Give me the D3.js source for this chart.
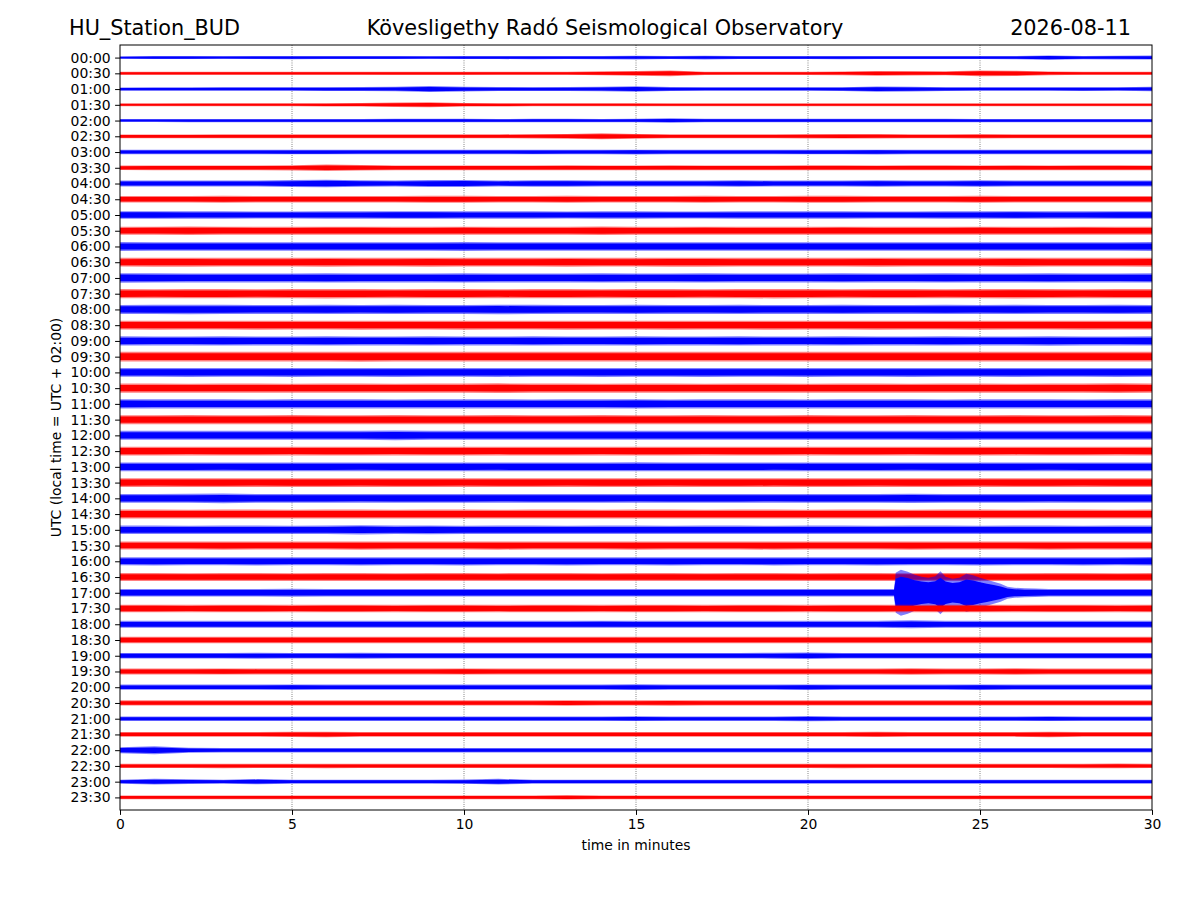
<!DOCTYPE html>
<html lang="en">
<head>
<meta charset="UTF-8">
<title>HU_Station_BUD helicorder</title>
<script src="https://d3js.org/d3.v7.min.js"></script>
<style>
  body { margin: 0; background: #fff; }
  text { font-family: "DejaVu Sans", sans-serif; fill: #000; }
</style>
</head>
<body>
<script>
// ---- data ----
const station = "HU_Station_BUD";
const observatory = "Kövesligethy Radó Seismological Observatory";
const day = "2026-08-11";

const rowLabels = ["00:00","00:30","01:00","01:30","02:00","02:30","03:00","03:30",
  "04:00","04:30","05:00","05:30","06:00","06:30","07:00","07:30",
  "08:00","08:30","09:00","09:30","10:00","10:30","11:00","11:30",
  "12:00","12:30","13:00","13:30","14:00","14:30","15:00","15:30",
  "16:00","16:30","17:00","17:30","18:00","18:30","19:00","19:30",
  "20:00","20:30","21:00","21:30","22:00","22:30","23:00","23:30"];

const rowColors = ["blue", "red"];   // alternate per row
const minutes = [0,1,2,3,4,5,6,7,8,9,10,11,12,13,14,15,16,17,18,19,20,21,22,23,24,25,26,27,28,29,30];

// trace envelope (peak amplitude, relative counts) for each minute of each 30-min row
const envelopes = [
  [12,15,15,14,15,16,15,15,15,14,15,15,16,15,17,18,15,18,15,15,15,16,15,15,15,15,16,22,17,18,20],
  [15,15,15,15,15,15,15,15,16,16,16,15,15,15,20,24,28,16,15,15,16,18,24,22,20,28,27,18,15,15,15],
  [16,17,17,18,18,18,19,20,22,30,24,20,19,20,22,28,20,18,18,18,18,19,26,24,19,18,18,18,19,18,22],
  [14,14,15,15,15,15,16,18,22,25,18,16,15,15,15,15,14,14,14,14,14,14,14,14,14,14,14,14,14,14,14],
  [15,15,16,16,16,16,16,16,18,17,17,16,18,17,16,17,22,18,17,17,17,17,17,17,17,16,16,16,16,16,16],
  [19,19,19,20,20,20,20,20,20,20,20,20,21,24,30,24,20,20,20,20,21,23,22,20,20,21,20,20,20,20,20],
  [22,22,22,22,22,23,23,22,22,22,22,22,23,22,22,24,22,22,22,22,23,23,24,22,22,22,22,22,22,22,22],
  [23,24,24,24,24,26,32,28,24,24,24,24,24,25,24,24,25,24,24,24,25,25,24,25,25,24,25,24,25,25,24],
  [30,30,30,30,30,34,38,32,30,34,36,30,32,32,30,30,30,30,32,30,30,30,33,30,30,32,30,30,30,30,30],
  [32,32,33,34,33,33,33,33,33,34,34,33,33,34,33,33,33,34,33,33,34,34,33,33,33,34,33,33,33,33,33],
  [38,38,37,37,36,36,37,37,38,38,37,37,37,36,37,37,36,36,37,37,37,37,36,36,37,37,38,37,37,38,38],
  [40,41,42,41,40,40,41,41,40,40,41,40,40,40,42,40,40,41,40,40,40,41,40,40,40,41,40,40,41,40,40],
  [44,43,43,42,43,42,43,42,42,43,44,42,42,43,42,42,43,42,43,42,42,43,42,43,42,42,43,42,43,43,44],
  [44,45,45,44,44,44,45,44,44,45,44,44,44,45,44,44,45,45,44,44,44,44,45,44,44,44,45,44,44,44,45],
  [48,46,45,45,45,45,46,45,45,45,46,45,45,45,46,45,45,46,45,45,45,46,45,45,46,45,45,46,45,45,46],
  [46,45,46,46,45,46,47,46,45,46,46,45,46,46,45,46,46,45,46,47,46,45,46,46,45,46,48,46,45,46,46],
  [45,46,47,46,45,45,46,45,46,45,45,48,46,45,45,46,45,45,46,45,45,46,45,45,46,45,46,45,45,46,45],
  [44,45,44,44,45,44,44,45,44,44,45,44,44,45,44,44,45,44,44,45,44,44,45,44,44,45,44,44,45,44,44],
  [46,45,45,46,45,45,46,45,45,46,45,45,46,45,45,46,45,45,46,45,45,46,45,45,46,45,45,47,45,45,46],
  [48,48,49,48,48,49,48,50,48,48,49,48,48,49,48,48,49,48,48,49,48,48,49,48,48,49,48,48,49,48,48],
  [44,44,45,44,44,45,44,44,45,44,44,45,44,44,45,44,44,45,44,44,45,44,44,45,44,44,45,44,44,45,44],
  [46,46,45,46,46,45,46,46,45,46,46,48,46,46,45,46,46,45,46,46,45,46,46,45,46,46,45,46,46,48,46],
  [47,46,46,46,45,46,46,46,45,46,46,46,45,46,46,47,45,46,46,46,45,46,46,46,45,46,46,46,45,46,46],
  [45,45,46,45,45,46,45,45,46,45,45,46,45,45,46,45,45,46,45,45,46,45,45,46,45,45,46,45,45,46,45],
  [45,45,45,45,45,45,45,45,48,45,45,45,45,45,45,45,45,45,45,45,45,45,45,45,46,45,45,45,45,45,45],
  [44,44,43,44,44,43,44,44,43,44,44,43,44,44,43,44,44,43,44,44,43,44,44,43,44,44,43,44,44,43,44],
  [44,44,44,43,44,44,44,43,44,44,44,43,44,44,44,45,44,44,44,43,44,44,44,43,44,44,44,43,44,44,44],
  [44,43,44,44,43,44,44,43,44,44,43,44,44,43,44,44,43,44,44,43,44,44,43,44,44,43,44,44,43,44,44],
  [44,44,45,48,44,44,44,43,44,44,44,43,44,44,44,43,44,44,44,43,44,44,44,46,44,44,44,43,44,44,44],
  [45,45,44,45,45,44,45,45,44,45,45,44,45,45,44,45,45,44,45,45,44,45,45,44,45,45,44,45,45,44,45],
  [42,42,41,42,42,41,42,46,42,44,41,42,42,41,42,42,41,42,42,41,42,42,41,42,42,41,42,42,41,42,42],
  [40,40,40,41,40,40,40,41,40,40,40,41,40,40,40,41,40,40,40,41,40,40,40,41,40,40,40,41,40,40,40],
  [40,41,40,40,41,40,40,41,40,40,41,40,40,41,40,40,41,40,40,41,40,40,41,40,40,41,40,40,41,40,42],
  [40,40,39,40,40,39,40,40,39,40,40,39,40,40,39,40,40,39,40,40,39,40,40,39,40,40,39,40,40,39,40],
  [38,38,38,38,38,40,38,38,38,38,38,38,38,38,38,38,38,38,38,38,38,38,38,38,38,38,38,38,38,38,38],
  [38,38,37,38,38,37,38,38,37,38,38,37,38,38,37,38,38,37,38,38,37,38,38,37,38,38,37,38,38,37,38],
  [34,34,34,34,34,34,34,34,34,34,34,34,34,34,35,34,34,34,34,34,34,34,34,40,34,34,34,34,34,34,34],
  [32,32,32,32,32,32,32,33,32,32,32,32,32,32,32,32,32,32,32,32,32,32,32,32,32,32,32,32,32,32,32],
  [28,28,28,28,29,28,28,29,28,28,28,28,28,28,28,28,28,28,28,29,32,28,28,28,28,28,28,28,28,28,28],
  [30,30,30,31,30,30,30,30,30,30,31,30,30,30,30,30,30,30,30,30,30,30,30,32,30,30,32,30,30,30,30],
  [26,26,26,26,26,27,26,26,26,26,26,26,26,26,26,29,26,26,26,26,28,26,26,26,26,28,26,26,26,26,26],
  [26,26,26,26,26,26,26,26,26,26,26,26,26,28,26,26,27,26,26,26,26,26,26,26,26,26,26,26,26,26,26],
  [22,22,22,22,22,22,22,22,22,22,22,22,22,22,22,24,22,22,22,22,26,22,22,22,22,22,22,24,22,22,22],
  [24,24,24,24,24,26,28,24,24,24,24,24,24,24,24,24,24,24,24,24,24,24,26,24,24,24,24,28,24,24,24],
  [30,40,25,22,22,22,22,22,22,22,22,22,22,22,22,22,22,22,22,22,22,22,22,22,22,22,22,22,22,22,22],
  [21,21,21,22,21,21,22,21,21,21,21,21,21,21,21,21,21,21,21,21,21,22,21,21,21,21,21,21,22,24,21],
  [20,28,24,20,26,20,20,20,20,20,22,28,20,20,20,20,20,20,20,20,20,20,20,20,20,20,20,20,20,20,20],
  [19,19,19,19,19,19,19,19,19,19,19,19,19,22,19,19,19,19,19,19,19,19,19,19,19,19,19,19,19,19,19]
];

// earthquake on the 17:00 row, finer sampling
const eventRow = 34;
const eventTimes = [22.0,22.5,22.55,22.7,22.9,23.1,23.3,23.5,23.7,23.85,24.0,24.2,24.4,24.6,24.8,25.0,25.2,25.4,25.6,25.8,26.0,26.3,26.6,27.0];
const eventAmps  = [38,  38,  200, 230, 210, 180, 160, 150, 165, 215, 160, 140, 150, 190, 175, 150, 130, 110, 90,  60,  50,  45,  42,  38];

const xTicks = [0,5,10,15,20,25,30];

// ---- layout ----
const W = 1200, H = 900;
const mLeft = 120, mRight = 1152, mTop = 45, mBottom = 810;

const svg = d3.select("body").append("svg").attr("width", W).attr("height", H);

const x = d3.scaleLinear().domain([0, 30]).range([mLeft, mRight]);
const y = d3.scaleLinear().domain([-0.8, rowLabels.length - 0.2]).range([mTop, mBottom]);
const amp = d3.scaleLinear().domain([0, 100]).range([0, 10]);

svg.append("defs").append("clipPath").attr("id", "plotclip")
  .append("rect").attr("x", mLeft).attr("y", mTop).attr("width", mRight - mLeft).attr("height", mBottom - mTop);

// grid
svg.append("g").selectAll("line").data(xTicks.slice(1, -1)).enter().append("line")
  .attr("x1", d => x(d)).attr("x2", d => x(d))
  .attr("y1", mTop).attr("y2", mBottom)
  .attr("stroke", "#444").attr("stroke-width", 0.8).attr("stroke-dasharray", "0.8,1.4");

// traces
function tracePoints(i) {
  let pts = minutes.map((m, k) => ({t: m, a: envelopes[i][k]}));
  if (i === eventRow) {
    pts = pts.filter(p => p.t < eventTimes[0] || p.t > eventTimes[eventTimes.length - 1]);
    eventTimes.forEach((t, k) => pts.push({t: t, a: eventAmps[k]}));
    pts.sort((a, b) => a.t - b.t);
  }
  return pts;
}

const traces = svg.append("g").attr("clip-path", "url(#plotclip)");
rowLabels.forEach((lab, i) => {
  const c = y(i);
  const pts = tracePoints(i);
  // outer band = peak envelope (lighter), inner band = dense core of the trace
  const outer = d3.area().x(d => x(d.t)).y0(d => c - amp(d.a)).y1(d => c + amp(d.a));
  const inner = d3.area().x(d => x(d.t)).y0(d => c - amp(d.a) * 0.7).y1(d => c + amp(d.a) * 0.7);
  traces.append("path").datum(pts).attr("d", outer)
    .attr("fill", rowColors[i % 2]).attr("fill-opacity", 0.5);
  traces.append("path").datum(pts).attr("d", inner)
    .attr("fill", rowColors[i % 2]);
});

// frame
svg.append("rect").attr("x", mLeft).attr("y", mTop)
  .attr("width", mRight - mLeft).attr("height", mBottom - mTop)
  .attr("fill", "none").attr("stroke", "#000").attr("stroke-width", 1);

// axes
const xAxis = d3.axisBottom(x).tickValues(xTicks).tickSize(4.9).tickPadding(4.5);
const gx = svg.append("g").attr("transform", `translate(0,${mBottom})`).call(xAxis);
gx.select(".domain").remove();
gx.selectAll("text").attr("font-size", 13.9).attr("font-family", "DejaVu Sans");

const yAxis = d3.axisLeft(y).tickValues(d3.range(rowLabels.length))
  .tickFormat(i => rowLabels[i]).tickSize(4.9).tickPadding(4.5);
const gy = svg.append("g").attr("transform", `translate(${mLeft},0)`).call(yAxis);
gy.select(".domain").remove();
gy.selectAll("text").attr("font-size", 13.9).attr("font-family", "DejaVu Sans");

// titles
svg.append("text").attr("x", 69).attr("y", 35).attr("font-size", 20.8).text(station);
svg.append("text").attr("x", 605).attr("y", 35).attr("font-size", 20.8)
  .attr("text-anchor", "middle").text(observatory);
svg.append("text").attr("x", 1131).attr("y", 35).attr("font-size", 20.8)
  .attr("text-anchor", "end").text(day);

svg.append("text").attr("x", (mLeft + mRight) / 2).attr("y", 850)
  .attr("font-size", 13.9).attr("text-anchor", "middle").text("time in minutes");
svg.append("text").attr("transform", `translate(61,${(mTop + mBottom) / 2}) rotate(-90)`)
  .attr("font-size", 13.9).attr("text-anchor", "middle").text("UTC (local time = UTC + 02:00)");
</script>
</body>
</html>
